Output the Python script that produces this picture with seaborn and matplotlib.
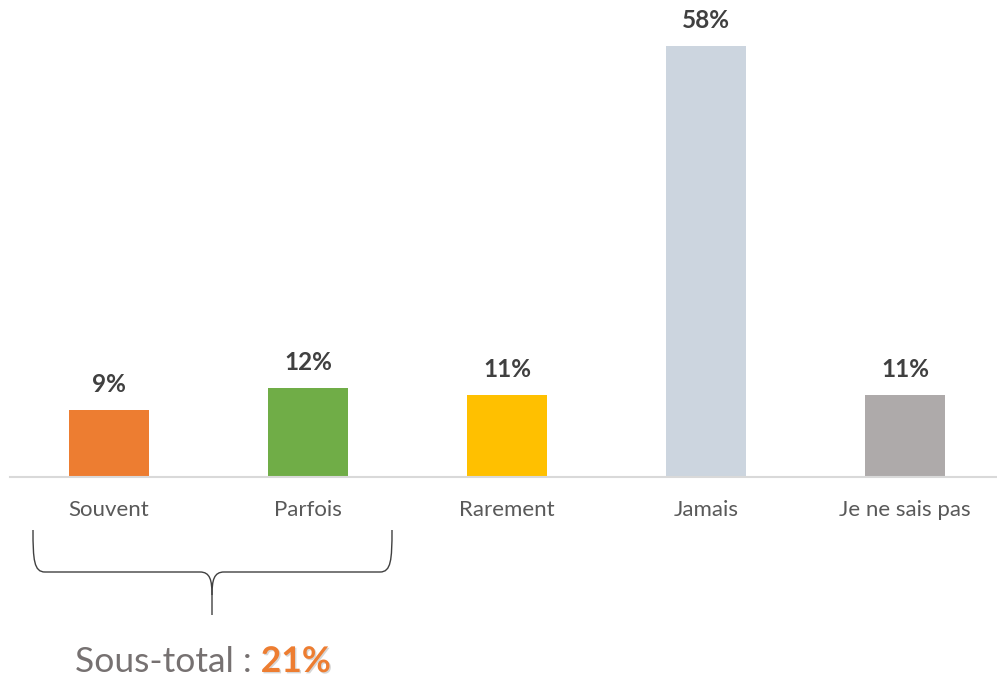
import matplotlib
matplotlib.use("Agg")
import matplotlib.pyplot as plt
import seaborn as sns
import pandas as pd
from matplotlib.path import Path
from matplotlib.patches import PathPatch
import matplotlib.patheffects as pe

categories = ["Souvent", "Parfois", "Rarement", "Jamais", "Je ne sais pas"]
values = [9, 12, 11, 58, 11]
colors = ["#ED7D31", "#70AD47", "#FFC000", "#CCD5DF", "#AEAAAA"]
subtotal_label = "Sous-total : "
subtotal_value = "21%"

sns.set_theme(style="white")
plt.rcParams["font.family"] = ["Lato", "DejaVu Sans"]

W, H = 997, 678
fig = plt.figure(figsize=(W / 100, H / 100), dpi=100)
ymax = 62
px_per_unit = 7.43
ax_h = ymax * px_per_unit
ax = fig.add_axes([9.5 / W, 1 - 477 / H, 995 / W, ax_h / H])

df = pd.DataFrame({"cat": categories, "val": values})
sns.barplot(data=df, x="cat", y="val", hue="cat", palette=colors, order=categories,
            hue_order=categories, width=0.4, legend=False, ax=ax, saturation=1,
            linewidth=0)

ax.set_xlim(-0.5, 4.5)
ax.set_ylim(0, ymax)
for s in ["top", "right", "left"]:
    ax.spines[s].set_visible(False)
ax.spines["bottom"].set_color("#D9D9D9")
ax.spines["bottom"].set_linewidth(1.5)
ax.set_yticks([])
ax.set_xlabel("")
ax.set_ylabel("")
ax.tick_params(axis="x", length=0, pad=16.5, labelsize=16, labelcolor="#595959")

for i, v in enumerate(values):
    ax.annotate(f"{v}%", (i, v), xytext=(0, 10), textcoords="offset points",
                ha="center", va="bottom", fontsize=17.5, fontweight="bold", color="#404040")

# brace (figure pixel coords from top)
def P(x, y):
    return (x / W, 1 - y / H)

path1 = Path([P(33, 530), P(33, 560), P(34, 572), P(45, 572), P(200, 572),
              P(210, 572), P(212, 580), P(212, 595), P(212, 615)],
             [Path.MOVETO, Path.CURVE4, Path.CURVE4, Path.CURVE4, Path.LINETO,
              Path.CURVE4, Path.CURVE4, Path.CURVE4, Path.LINETO])
path2 = Path([P(212, 595), P(212, 580), P(214, 572), P(224, 572), P(380, 572),
              P(391, 572), P(392, 560), P(392, 530)],
             [Path.MOVETO, Path.CURVE4, Path.CURVE4, Path.CURVE4, Path.LINETO,
              Path.CURVE4, Path.CURVE4, Path.CURVE4])
for p in (path1, path2):
    fig.patches.append(PathPatch(p, transform=fig.transFigure, fill=False,
                                 edgecolor="#404040", linewidth=1.0))

t1 = fig.text(75 / W, 1 - 672 / H, subtotal_label, fontsize=25.5, color="#767171",
              ha="left", va="baseline")
fig.canvas.draw()
bb = t1.get_window_extent()
fig.text(bb.x1 / W, 1 - 672 / H, subtotal_value, fontsize=25.5, color="#ED7D31",
         fontweight="bold", ha="left", va="baseline",
         path_effects=[pe.SimplePatchShadow(offset=(1, -1), shadow_rgbFace="#999999", alpha=0.4),
                       pe.Normal()])

fig.savefig("out.png", dpi=100)
